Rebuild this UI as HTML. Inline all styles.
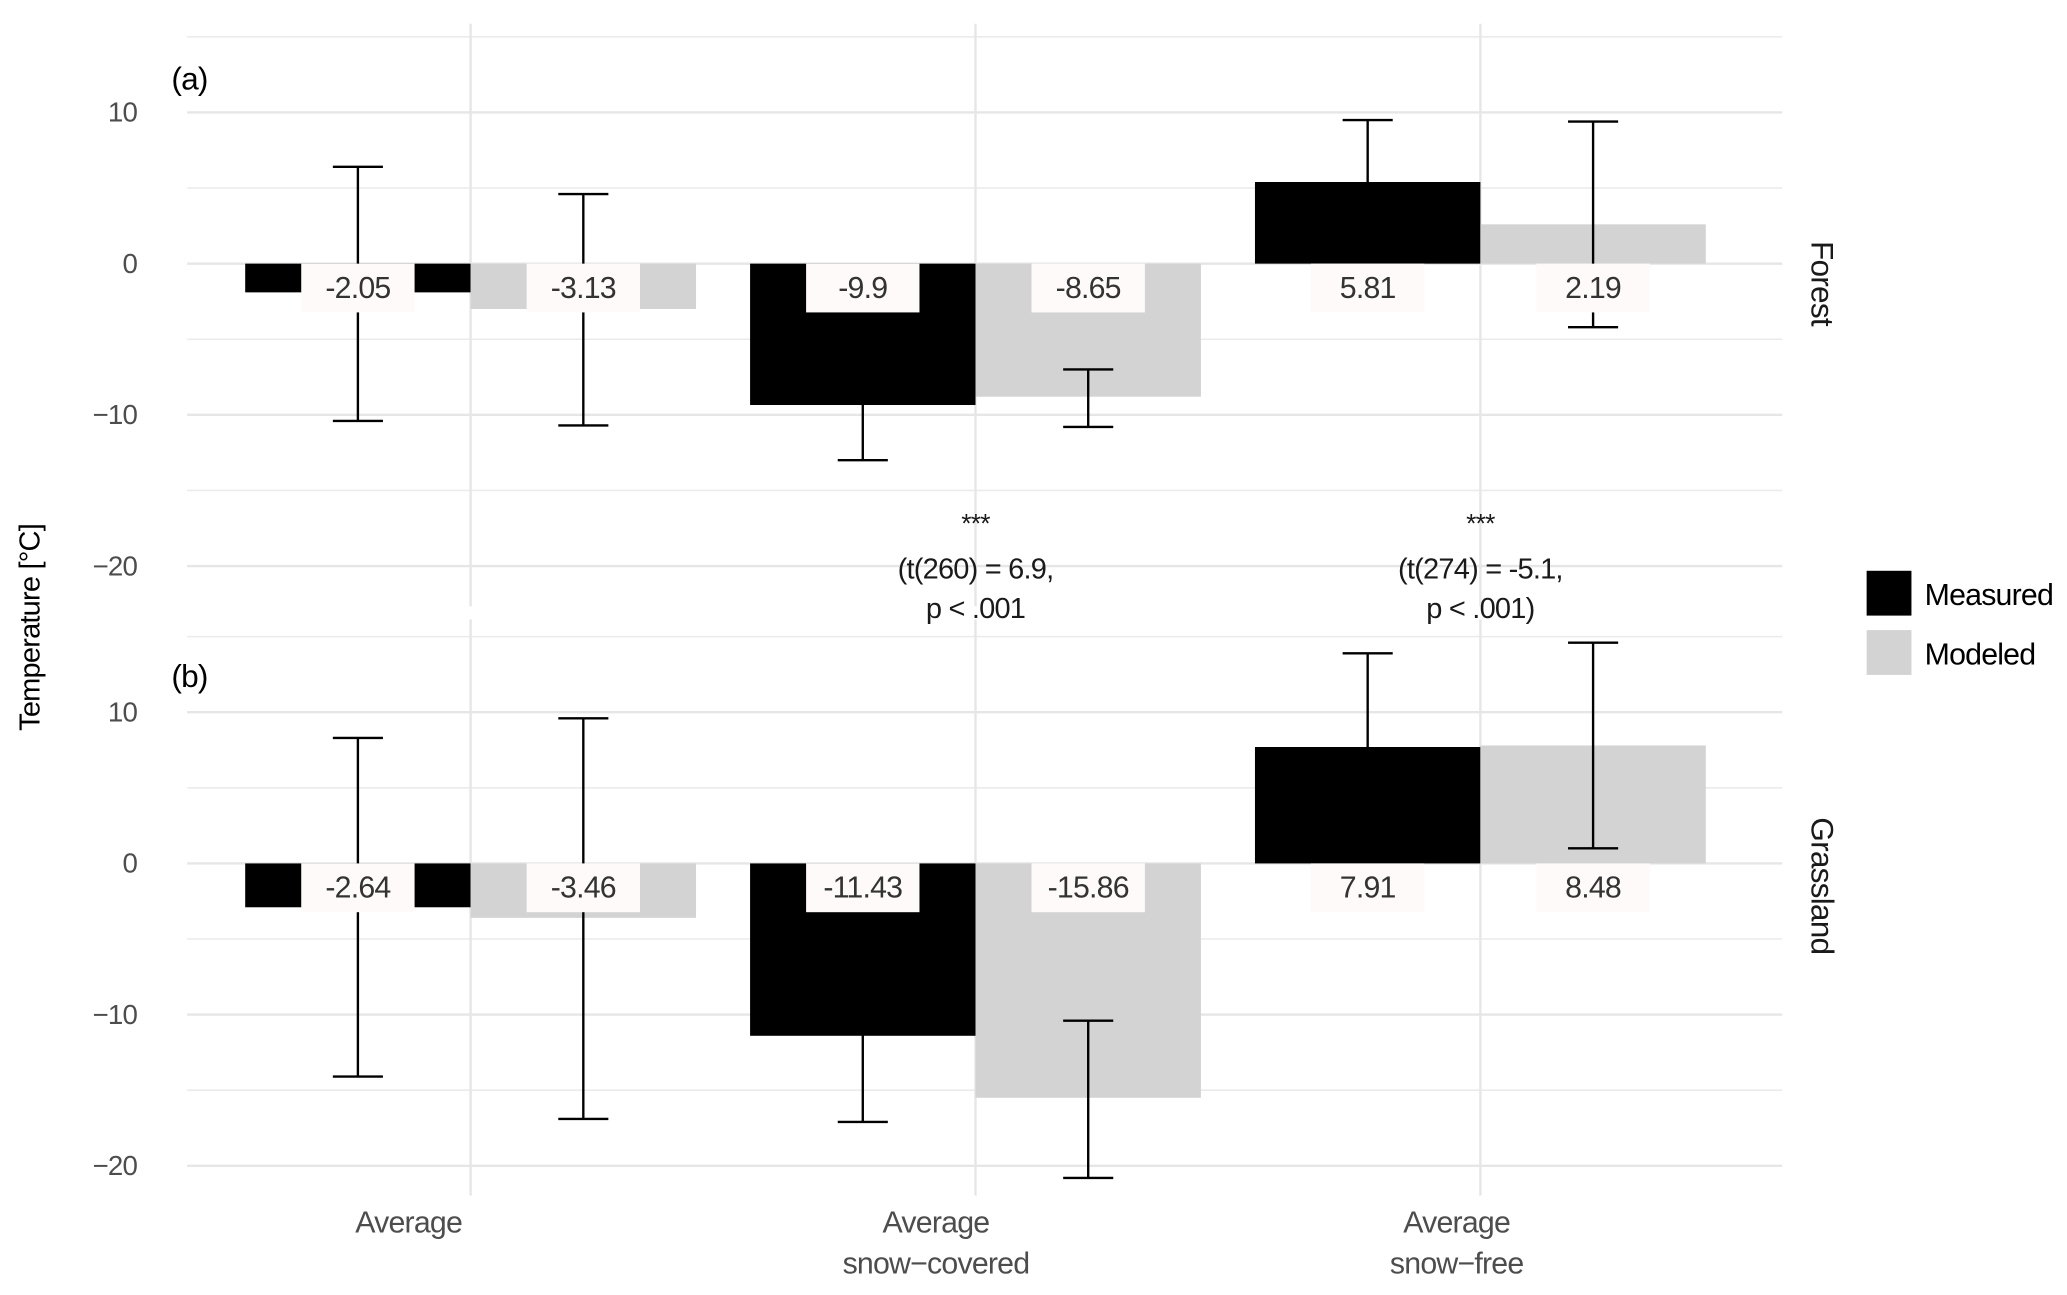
<!DOCTYPE html>
<html><head><meta charset="utf-8">
<style>
html,body{margin:0;padding:0;background:#fff;}
svg{display:block;font-family:"Liberation Sans Narrow","Liberation Sans",sans-serif;letter-spacing:-0.6px;}
</style></head>
<body>
<svg id="chart" width="2067" height="1295" viewBox="0 0 1568 982.4" preserveAspectRatio="none" xmlns="http://www.w3.org/2000/svg"></svg>
<script>
// ---- data ----
const categories = [["Average"], ["Average", "snow\u2212covered"], ["Average", "snow\u2212free"]];
const panels = ["Forest", "Grassland"];
const panelTags = ["(a)", "(b)"];
const seriesNames = ["Measured", "Modeled"];
const forestMeasured = [-1.9, -9.35, 5.4];
const forestModeled = [-3.0, -8.8, 2.6];
const grassMeasured = [-2.9, -11.4, 7.7];
const grassModeled = [-3.6, -15.5, 7.8];
const forestMeasuredLo = [-10.4, -13.0, 1.5];
const forestMeasuredHi = [6.4, -6.0, 9.5];
const forestModeledLo = [-10.7, -10.8, -4.2];
const forestModeledHi = [4.6, -7.0, 9.4];
const grassMeasuredLo = [-14.1, -17.1, 1.5];
const grassMeasuredHi = [8.3, -6.0, 13.9];
const grassModeledLo = [-16.9, -20.8, 1.0];
const grassModeledHi = [9.6, -10.4, 14.6];
const forestMeasuredLabels = ["-2.05", "-9.9", "5.81"];
const forestModeledLabels = ["-3.13", "-8.65", "2.19"];
const grassMeasuredLabels = ["-2.64", "-11.43", "7.91"];
const grassModeledLabels = ["-3.46", "-15.86", "8.48"];
const yTicks = [10, 0, -10, -20];
const yTickLabels = ["10", "0", "\u221210", "\u221220"];
const yMinor = [15, 5, -5, -15];
const annotations = [["***", "(t(260) = 6.9,", "p < .001"], ["***", "(t(274) = -5.1,", "p < .001)"]];
const annotationCats = [1, 2];

// ---- layout ----
const NS = "http://www.w3.org/2000/svg";
const svg = document.getElementById("chart");
const X0 = 142, X1 = 1352;
const catW = 383, catStart = 357;
const barW = 171;
const zeroY = [200, 655];
const pxPerUnit = 11.47;
const panelTop = [18, 470];
const panelBot = [460, 907];
function xCat(i){ return catStart + i*catW; }
function yScale(p, v){ return zeroY[p] - v*pxPerUnit; }
function mk(tag, attrs, parent){
  const e = document.createElementNS(NS, tag);
  for (const k in attrs) e.setAttribute(k, attrs[k]);
  (parent||svg).appendChild(e);
  return e;
}
const barData = [[forestMeasured, forestModeled],[grassMeasured, grassModeled]];
const loData = [[forestMeasuredLo, forestModeledLo],[grassMeasuredLo, grassModeledLo]];
const hiData = [[forestMeasuredHi, forestModeledHi],[grassMeasuredHi, grassModeledHi]];
const labData = [[forestMeasuredLabels, forestModeledLabels],[grassMeasuredLabels, grassModeledLabels]];
const fills = ["#000000", "#d3d3d3"];

for (let p = 0; p < 2; p++){
  const g = mk("g", {});
  
  
  yMinor.forEach(v => {
    const l = mk("line", {x1:X0, x2:X1, y1:yScale(p,v), y2:yScale(p,v), stroke:"#ebebeb", "stroke-width":1.2}, g);
    
    
  });
  yTicks.forEach((v, i) => {
    const l = mk("line", {x1:X0, x2:X1, y1:yScale(p,v), y2:yScale(p,v), stroke:"#e6e6e6", "stroke-width":1.8}, g);
    
    
    const t = mk("text", {x:104, y:yScale(p,v)+7, "text-anchor":"end", "font-size":21, fill:"#4d4d4d"}, g);
    t.textContent = yTickLabels[i];
    
    
  });
  categories.forEach((c, i) => {
    const l = mk("line", {x1:xCat(i), x2:xCat(i), y1:panelTop[p], y2:panelBot[p], stroke:"#e6e6e6", "stroke-width":1.8}, g);
    
    
  });
  for (let s = 0; s < 2; s++){
    categories.forEach((c, i) => {
      const v = barData[p][s][i];
      const x = s === 0 ? xCat(i) - barW : xCat(i);
      const y0 = yScale(p, 0), y1 = yScale(p, v);
      const r = mk("rect", {x:x, y:Math.min(y0,y1), width:barW, height:Math.abs(y1-y0), fill:fills[s]}, g);
      
      
    });
  }
  for (let s = 0; s < 2; s++){
    categories.forEach((c, i) => {
      const cx = s === 0 ? xCat(i) - barW/2 : xCat(i) + barW/2;
      const yl = yScale(p, loData[p][s][i]), yh = yScale(p, hiData[p][s][i]);
      const eg = mk("g", {stroke:"#000", "stroke-width":1.8}, g);
      
      
      mk("line", {x1:cx, x2:cx, y1:yl, y2:yh}, eg);
      mk("line", {x1:cx-19, x2:cx+19, y1:yl, y2:yl}, eg);
      mk("line", {x1:cx-19, x2:cx+19, y1:yh, y2:yh}, eg);
    });
  }
  for (let s = 0; s < 2; s++){
    categories.forEach((c, i) => {
      const cx = s === 0 ? xCat(i) - barW/2 : xCat(i) + barW/2;
      const txt = labData[p][s][i];
      const w = 86;
      const r = mk("rect", {x:cx - w/2, y:zeroY[p], width:w, height:37, fill:"#fffafa"}, g);
      
      
      const t = mk("text", {x:cx, y:zeroY[p]+26, "text-anchor":"middle", "font-size":23, fill:"#333"}, g);
      t.textContent = txt;
      
      
    });
  }
  const tag = mk("text", {x:130, y:p===0?68:521, "font-size":24, fill:"#000"}, g);
  tag.textContent = panelTags[p];
  
  
  const cy = p===0 ? 215 : 672;
  const st = mk("text", {x:1374, y:cy, "text-anchor":"middle", "font-size":24, fill:"#1a1a1a", transform:`rotate(90 1374 ${cy})`}, g);
  st.textContent = panels[p];
  
  
}
annotations.forEach((lines, k) => {
  const cx = xCat(annotationCats[k]);
  const ys = [404, 439, 469];
  lines.forEach((ln, j) => {
    const t = mk("text", {x:cx, y:ys[j], "text-anchor":"middle", "font-size":j===0?20:22, fill:"#1a1a1a"});
    t.textContent = ln;
    
    
  });
});
const xLabCx = [310, 710, 1105];
categories.forEach((c, i) => {
  c.forEach((ln, j) => {
    const t = mk("text", {x:xLabCx[i], y:935 + j*31, "text-anchor":"middle", "font-size":23, fill:"#4d4d4d"});
    t.textContent = ln;
    
    
  });
});
const yt = mk("text", {x:30, y:476, "text-anchor":"middle", "font-size":22, fill:"#000", transform:"rotate(-90 30 476)"});
yt.textContent = "Temperature [\u00B0C]";


seriesNames.forEach((n, s) => {
  const lg = mk("g", {});
  
  
  const y = 433 + s*45;
  mk("rect", {x:1416, y:y, width:34, height:34, fill:fills[s]}, lg);
  const t = mk("text", {x:1460, y:y+26, "font-size":23, fill:"#000"}, lg);
  t.textContent = n;
});
</script>
</body></html>
